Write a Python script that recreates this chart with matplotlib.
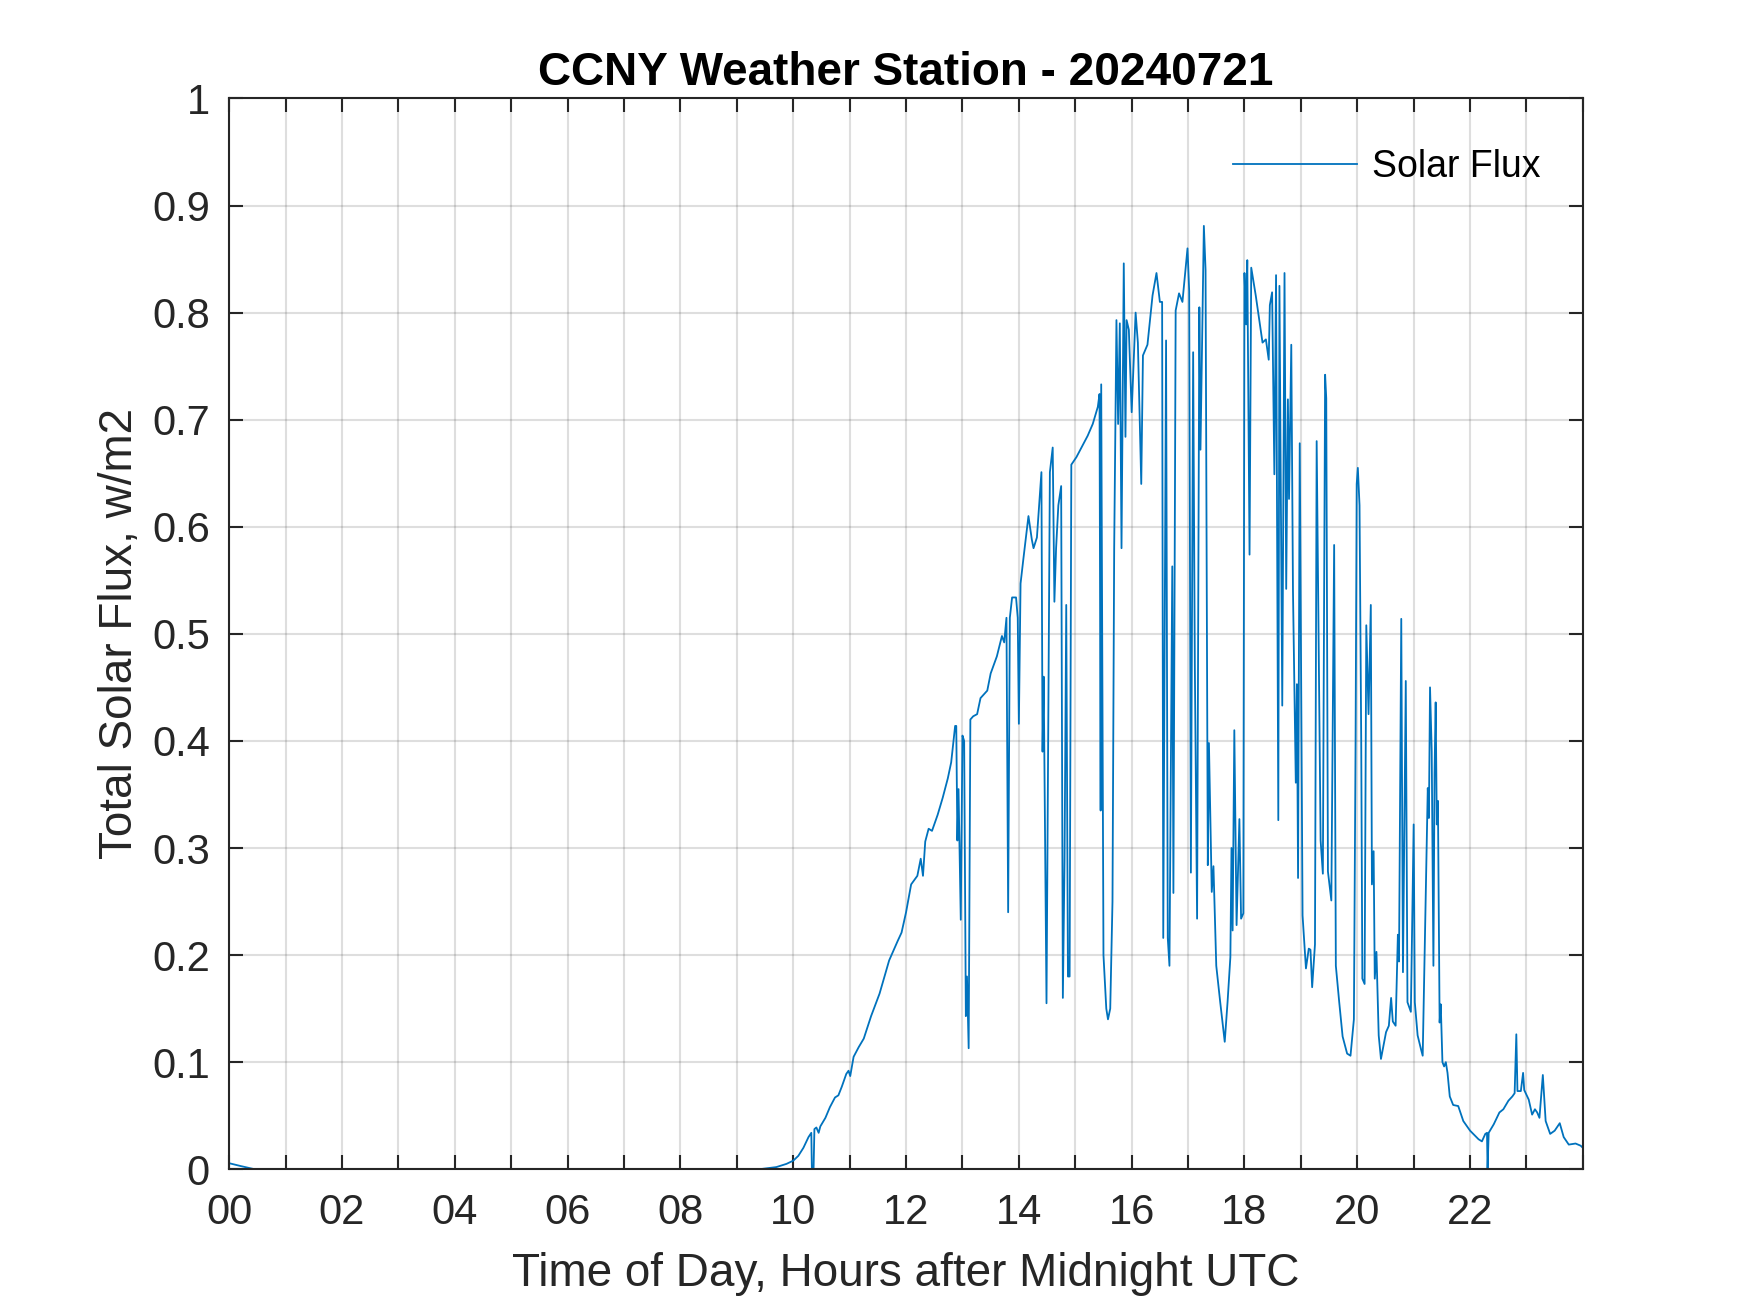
# -*- coding: utf-8 -*-

"""CCNY weather station: total solar flux over one day (20240721)."""

import numpy as np
import matplotlib
matplotlib.use('Agg')
import matplotlib.pyplot as plt

plt.rcParams['font.family'] = ['Liberation Sans', 'DejaVu Sans']

# hours after midnight UTC, solar flux readings taken off the reference plot
hours = [
    0.0, 0.2, 0.45, 9.4, 9.7, 9.88, 10.0, 10.09, 10.18, 10.27, 10.32, 10.33,
    10.36, 10.375, 10.41, 10.45, 10.48, 10.57, 10.65, 10.74, 10.80, 10.86,
    10.94, 10.98, 11.01, 11.07, 11.16, 11.25, 11.38, 11.53, 11.7, 11.85,
    11.92, 12.0, 12.09, 12.2, 12.26, 12.30, 12.34, 12.4, 12.46, 12.56, 12.65,
    12.74, 12.8, 12.87, 12.89, 12.91, 12.93, 12.97, 13.0, 13.03, 13.06, 13.08,
    13.11, 13.14, 13.19, 13.26, 13.32, 13.44, 13.5, 13.61, 13.7, 13.74, 13.78,
    13.81, 13.84, 13.88, 13.95, 13.98, 14.0, 14.03, 14.08, 14.17, 14.23,
    14.26, 14.32, 14.36, 14.40, 14.42, 14.44, 14.49, 14.55, 14.6, 14.63,
    14.66, 14.7, 14.75, 14.78, 14.81, 14.84, 14.87, 14.90, 14.93, 15.02,
    15.13, 15.22, 15.31, 15.40, 15.43, 15.45, 15.46, 15.50, 15.55, 15.58,
    15.62, 15.66, 15.69, 15.73, 15.76, 15.79, 15.82, 15.86, 15.89, 15.91,
    15.95, 16.0, 16.07, 16.11, 16.17, 16.20, 16.28, 16.37, 16.44, 16.5,
    16.54, 16.56, 16.61, 16.64, 16.67, 16.72, 16.74, 16.78, 16.84, 16.9,
    16.96, 16.99, 17.02, 17.05, 17.09, 17.12, 17.16, 17.2, 17.22, 17.28,
    17.31, 17.35, 17.37, 17.42, 17.45, 17.5, 17.57, 17.65, 17.7, 17.75,
    17.77, 17.79, 17.82, 17.86, 17.91, 17.94, 17.98, 18.0, 18.03, 18.05,
    18.09, 18.12, 18.2, 18.32, 18.38, 18.43, 18.45, 18.49, 18.53, 18.56,
    18.6, 18.62, 18.67, 18.71, 18.74, 18.77, 18.79, 18.83, 18.86, 18.91,
    18.93, 18.95, 18.98, 19.03, 19.09, 19.14, 19.17, 19.2, 19.25, 19.28,
    19.35, 19.39, 19.43, 19.45, 19.48, 19.54, 19.59, 19.62, 19.68, 19.74,
    19.82, 19.88, 19.94, 19.97, 19.99, 20.01, 20.04, 20.07, 20.09, 20.13,
    20.16, 20.2, 20.24, 20.26, 20.29, 20.31, 20.34, 20.38, 20.42, 20.51,
    20.56, 20.6, 20.63, 20.68, 20.72, 20.74, 20.78, 20.81, 20.86, 20.89,
    20.95, 21.0, 21.02, 21.07, 21.13, 21.16, 21.25, 21.27, 21.29, 21.32,
    21.35, 21.37, 21.39, 21.41, 21.43, 21.46, 21.48, 21.51, 21.54, 21.57,
    21.6, 21.64, 21.7, 21.79, 21.88, 22.0, 22.15, 22.21, 22.27, 22.3, 22.31,
    22.33, 22.42, 22.52, 22.59, 22.68, 22.75, 22.79, 22.82, 22.84, 22.9,
    22.94, 22.96, 23.04, 23.1, 23.15, 23.19, 23.23, 23.29, 23.34, 23.42,
    23.5, 23.59, 23.66, 23.75, 23.87, 23.96, 24.0,
]
flux = [
    0.0056, 0.003, 0.0, 0.0, 0.002, 0.005, 0.008, 0.0125, 0.02, 0.03, 0.034,
    0.0, 0.0, 0.0375, 0.039, 0.034, 0.04, 0.048, 0.058, 0.067, 0.069, 0.077,
    0.089, 0.092, 0.087, 0.105, 0.114, 0.122, 0.143, 0.164, 0.195, 0.213,
    0.221, 0.24, 0.266, 0.274, 0.29, 0.274, 0.306, 0.318, 0.316, 0.331, 0.347,
    0.365, 0.38, 0.414, 0.414, 0.307, 0.355, 0.233, 0.405, 0.40, 0.143, 0.18,
    0.113, 0.42, 0.423, 0.425, 0.44, 0.447, 0.463, 0.479, 0.498, 0.492, 0.515,
    0.24, 0.515, 0.534, 0.534, 0.515, 0.416, 0.547, 0.57, 0.61, 0.588,
    0.58, 0.59, 0.62, 0.651, 0.39, 0.46, 0.155, 0.651, 0.674, 0.53,
    0.58, 0.62, 0.638, 0.16, 0.29, 0.527, 0.18, 0.18, 0.658, 0.665,
    0.676, 0.685, 0.696, 0.712, 0.724, 0.335, 0.733, 0.2, 0.15, 0.14,
    0.15, 0.25, 0.58, 0.793, 0.696, 0.79, 0.58, 0.846, 0.684, 0.793,
    0.784, 0.707, 0.8, 0.772, 0.64, 0.76, 0.77, 0.816, 0.837, 0.81,
    0.81, 0.216, 0.774, 0.216, 0.19, 0.563, 0.258, 0.802, 0.818, 0.81,
    0.844, 0.86, 0.82, 0.277, 0.763, 0.47, 0.234, 0.805, 0.672, 0.881,
    0.84, 0.284, 0.398, 0.259, 0.283, 0.19, 0.156, 0.119, 0.156, 0.198,
    0.3, 0.223, 0.41, 0.228, 0.327, 0.234, 0.239, 0.837, 0.789, 0.849,
    0.574, 0.842, 0.816, 0.772, 0.775, 0.756, 0.807, 0.819, 0.649, 0.835,
    0.326, 0.825, 0.433, 0.837, 0.542, 0.719, 0.626, 0.77, 0.54, 0.361,
    0.453, 0.272, 0.678, 0.237, 0.1875, 0.206, 0.205, 0.17, 0.21, 0.68,
    0.307, 0.276, 0.742, 0.72, 0.278, 0.251, 0.583, 0.19, 0.156, 0.124,
    0.108, 0.106, 0.14, 0.4, 0.64, 0.655, 0.62, 0.4, 0.178, 0.173,
    0.508, 0.425, 0.527, 0.266, 0.297, 0.178, 0.203, 0.125, 0.103, 0.128,
    0.134, 0.16, 0.138, 0.134, 0.219, 0.194, 0.514, 0.184, 0.456, 0.156,
    0.147, 0.322, 0.156, 0.125, 0.112, 0.106, 0.356, 0.328, 0.45, 0.39,
    0.19, 0.37, 0.436, 0.322, 0.344, 0.137, 0.154, 0.1, 0.096, 0.1,
    0.09, 0.068, 0.06, 0.059, 0.045, 0.036, 0.028, 0.026, 0.033, 0.034, 0.0,
    0.034, 0.042, 0.053, 0.056, 0.064, 0.068, 0.071, 0.126, 0.073, 0.073,
    0.09, 0.074, 0.065, 0.051, 0.056, 0.053, 0.048, 0.088, 0.045, 0.033,
    0.036, 0.043, 0.03, 0.023, 0.024, 0.022, 0.02,
]

hour_ticks = list(range(0, 25))
hour_labels = ['%02d' % h if h % 2 == 0 and h < 24 else '' for h in hour_ticks]
flux_ticks = [0, 0.1, 0.2, 0.3, 0.4, 0.5, 0.6, 0.7, 0.8, 0.9, 1]
flux_labels = ['0', '0.1', '0.2', '0.3', '0.4', '0.5', '0.6', '0.7', '0.8', '0.9', '1']

if __name__ == '__main__':
    dark = '#262626'
    fig = plt.figure(figsize=(17.5, 13.13), dpi=100)
    ax = fig.add_axes([0.131, 0.1095, 0.7735, 0.8155])

    ax.plot(hours, flux, color='#0072BD', lw=1.3, label='Solar Flux')

    ax.set_xlim(0, 24)
    ax.set_ylim(0, 1)
    ax.set_xticks(hour_ticks)
    ax.set_xticklabels(hour_labels)
    ax.set_yticks(flux_ticks)
    ax.set_yticklabels(flux_labels)
    ax.grid(True, color=dark, alpha=0.15, lw=1.5)
    ax.set_axisbelow(True)

    ax.tick_params(direction='in', length=10, width=1.5, colors=dark,
                   labelsize=30, top=True, right=True, pad=14)
    ax.tick_params(axis='x', pad=17)
    for side in ax.spines.values():
        side.set_color(dark)
        side.set_linewidth(1.5)

    ax.set_title('CCNY Weather Station - 20240721', fontsize=33,
                 fontweight='bold', pad=10)
    ax.set_xlabel('Time of Day, Hours after Midnight UTC', fontsize=33,
                  color=dark, labelpad=14)
    ax.set_ylabel('Total Solar Flux, w/m2', fontsize=33, color=dark,
                  labelpad=7)

    ax.legend(loc='upper right', bbox_to_anchor=(1.006, 1.0), frameon=False,
              fontsize=27, handlelength=3.3, handletextpad=0.4,
              borderaxespad=0.95)

    fig.savefig('out.png', dpi=100, facecolor='white')
